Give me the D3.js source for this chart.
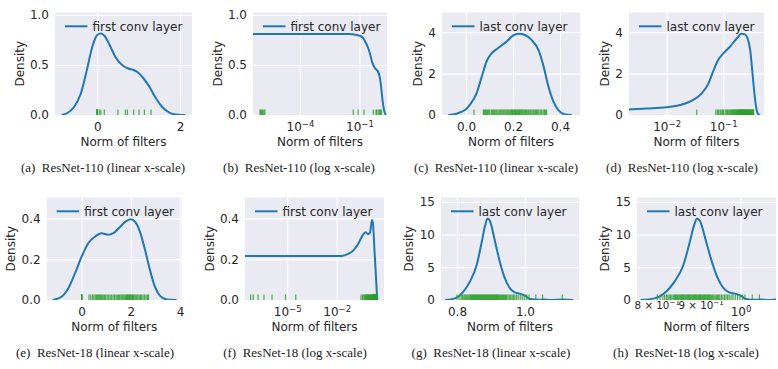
<!DOCTYPE html>
<html>
<head>
<meta charset="utf-8">
<script src="https://cdn.jsdelivr.net/npm/d3@7"></script>
<style>
  body { margin: 0; background: #fff; }
  svg text { font-family: 'DejaVu Sans', sans-serif; fill: #262626; }
  svg text.caption { font-family: 'Liberation Serif', 'Times New Roman', serif; fill: #1a1a1a; }
</style>
</head>
<body>
<svg width="778" height="369"></svg>
<script>
/* global d3 */

// ---- values ----
// density curves, [norm, density]
const r110FirstCurve = [[-0.86,0],[-0.72,0.02],[-0.56,0.08],[-0.4,0.21],[-0.25,0.45],[-0.12,0.68],[0,0.8],[0.08,0.815],[0.18,0.79],[0.3,0.7],[0.44,0.58],[0.6,0.5],[0.75,0.465],[0.88,0.45],[1.0,0.42],[1.12,0.365],[1.25,0.29],[1.4,0.18],[1.55,0.09],[1.7,0.035],[1.85,0.008],[2.12,0]]
const r110FirstCurveLog = [[4.27e-7,0.81],[0.0316,0.81],[0.0724,0.8],[0.112,0.79],[0.155,0.77],[0.2,0.73],[0.275,0.67],[0.355,0.6],[0.42,0.54],[0.5,0.5],[0.6,0.47],[0.74,0.45],[0.89,0.43],[1.0,0.4],[1.175,0.32],[1.32,0.23],[1.48,0.14],[1.7,0.06],[1.95,0.015],[2.19,0]]
const r110LastCurve = [[-0.075,0],[-0.04,0.06],[-0.018,0.16],[0,0.28],[0.017,0.5],[0.045,1.05],[0.067,1.85],[0.088,2.6],[0.109,2.98],[0.138,3.25],[0.173,3.55],[0.201,3.85],[0.223,3.93],[0.251,3.87],[0.279,3.63],[0.308,3.15],[0.329,2.4],[0.35,1.4],[0.372,0.65],[0.393,0.24],[0.421,0.03],[0.45,0]]
const r110LastCurveLog = [[0.00216,0.27],[0.00447,0.31],[0.01,0.37],[0.0174,0.48],[0.0295,0.73],[0.0417,1.05],[0.055,1.53],[0.066,2.1],[0.0813,2.66],[0.1,2.98],[0.132,3.31],[0.174,3.71],[0.209,3.93],[0.24,3.9],[0.275,3.63],[0.302,3.05],[0.324,2.2],[0.355,1.05],[0.38,0.4],[0.417,0.03],[0.447,0]]
const r18FirstCurve = [[-1.18,0],[-0.81,0.016],[-0.54,0.057],[-0.27,0.13],[0,0.212],[0.27,0.278],[0.54,0.31],[0.81,0.327],[1.08,0.32],[1.29,0.327],[1.56,0.358],[1.83,0.388],[2.0,0.395],[2.17,0.384],[2.37,0.335],[2.58,0.245],[2.78,0.147],[2.98,0.065],[3.19,0.02],[3.46,0.003],[3.86,0]]
const r18FirstCurveLog = [[2.75e-8,0.216],[0.02,0.216],[0.05,0.226],[0.1,0.242],[0.2,0.274],[0.363,0.315],[0.575,0.332],[0.794,0.322],[1.047,0.33],[1.38,0.392],[1.585,0.375],[1.995,0.234],[2.51,0.089],[2.88,0]]
const r18LastCurve = [[0.765,0],[0.794,0.25],[0.819,1.27],[0.838,2.8],[0.858,5.34],[0.873,8.9],[0.882,11.2],[0.89,12.45],[0.897,12.05],[0.912,8.9],[0.926,5.85],[0.941,3.3],[0.956,1.78],[0.97,1.17],[0.985,0.97],[1.0,0.66],[1.015,0.15],[1.04,0.02],[1.055,0.08],[1.075,0],[1.11,0.08],[1.142,0]]

// filter norms (rug ticks)
const r110FirstNorms = [9.6e-7,1.05e-6,1.15e-6,1.3e-6,1.5e-6,1.7e-6,0.049,0.087,0.17,0.5,0.68,0.73,0.88,1.01,1.14,1.3]
const r110LastNorms = [0.034,0.074,0.079,0.083,0.088,0.092,0.097,0.101,0.108,0.113,0.118,0.122,0.127,0.131,0.136,0.141,0.145,0.149,0.153,0.158,0.162,0.166,0.171,0.175,0.179,0.183,0.187,0.191,0.194,0.198,0.201,0.205,0.208,0.211,0.214,0.218,0.221,0.224,0.228,0.231,0.235,0.238,0.242,0.246,0.25,0.254,0.258,0.263,0.267,0.272,0.276,0.281,0.286,0.29,0.295,0.3,0.305,0.31,0.316,0.322,0.328,0.334,0.338,0.343]
const r18FirstNorms = [6.0e-8,8.7e-8,1.7e-7,3.9e-7,1.2e-6,7.9e-6,3.3e-5,0.30,0.37,0.44,0.50,0.55,0.60,0.64,0.68,0.72,0.76,0.80,0.84,0.88,0.93,0.98,1.04,1.10,1.16,1.22,1.28,1.34,1.40,1.45,1.50,1.55,1.60,1.64,1.68,1.72,1.76,1.80,1.83,1.86,1.89,1.92,1.95,1.98,2.01,2.04,2.07,2.10,2.13,2.17,2.21,2.25,2.29,2.34,2.39,2.44,2.50,2.56,2.62,2.68,2.72]
const r18LastNorms = [0.800,0.806,0.812,0.816,0.820,0.823,0.826,0.829,0.832,0.835,0.838,0.840,0.842,0.844,0.846,0.848,0.850,0.852,0.854,0.856,0.858,0.860,0.862,0.864,0.866,0.868,0.870,0.872,0.874,0.876,0.878,0.880,0.882,0.884,0.886,0.888,0.890,0.892,0.894,0.896,0.898,0.900,0.902,0.904,0.906,0.908,0.910,0.912,0.914,0.916,0.918,0.920,0.922,0.925,0.928,0.931,0.934,0.937,0.940,0.943,0.946,0.950,0.954,0.958,0.962,0.966,0.970,0.975,0.980,0.986,0.992,0.998,1.005,1.012,1.032,1.052,1.110]

// ticks
const xTicksA = [0, 2]
const xTicksB = [1e-4, 1e-1]
const xTicksC = [0, 0.2, 0.4]
const xTicksD = [1e-2, 1e-1]
const xTicksE = [0, 2, 4]
const xTicksF = [1e-5, 1e-2]
const xTicksG = [0.8, 1.0]
const xTicksH = [1]
const xMinorTicksH = [0.8, 0.9]
const yTicks110First = [0, 0.5, 1]
const yTicks110Last = [0, 2, 4]
const yTicks18First = [0, 0.2, 0.4]
const yTicks18Last = [0, 5, 10, 15]

// texts
const xLabel = 'Norm of filters'
const yLabel = 'Density'
const layerNames = ['first conv layer', 'last conv layer']
const letters = ['a', 'b', 'c', 'd', 'e', 'f', 'g', 'h']
const captions = ['ResNet-110 (linear x-scale)', 'ResNet-110 (log x-scale)', 'ResNet-110 (linear x-scale)', 'ResNet-110 (log x-scale)',
	'ResNet-18 (linear x-scale)', 'ResNet-18 (log x-scale)', 'ResNet-18 (linear x-scale)', 'ResNet-18 (log x-scale)']

// ---- layout ----
const blue = '#1f77b4'
const green = '#2ca02c'
const fontSize = 12

const panels = [
	{name: 0, curve: r110FirstCurve, rug: r110FirstNorms, log: false, box: [55, 12.5, 192, 115], xDomain: [-1.02, 2.29], xTicks: xTicksA, xFmt: 'd', yMax: 1.025, yTicks: yTicks110First, yFmt: '.1f', capX: 103, capY: 172},
	{name: 0, curve: r110FirstCurveLog, rug: r110FirstNorms, log: true, box: [253, 12.5, 387, 115], xDomain: [Math.pow(10, -6.37), Math.pow(10, 0.39)], xTicks: xTicksB, yMax: 1.025, yTicks: yTicks110First, yFmt: '.1f', capX: 299, capY: 172},
	{name: 1, curve: r110LastCurve, rug: r110LastNorms, log: false, box: [442, 12.5, 580, 115], xDomain: [-0.102, 0.485], xTicks: xTicksC, xFmt: '.1f', yMax: 4.957, yTicks: yTicks110Last, yFmt: 'd', capX: 496, capY: 172},
	{name: 1, curve: r110LastCurveLog, rug: r110LastNorms, log: true, box: [629, 12.5, 764, 115], xDomain: [Math.pow(10, -2.665), Math.pow(10, -0.28)], xTicks: xTicksD, yMax: 4.957, yTicks: yTicks110Last, yFmt: 'd', capX: 682, capY: 172},
	{name: 0, curve: r18FirstCurve, rug: r18FirstNorms, log: false, box: [46.7, 197.5, 181.7, 300], xDomain: [-1.42, 4.07], xTicks: xTicksE, xFmt: 'd', yMax: 0.502, yTicks: yTicks18First, yFmt: '.1f', capX: 95, capY: 357},
	{name: 0, curve: r18FirstCurveLog, rug: r18FirstNorms, log: true, box: [245, 197.5, 384, 300], xDomain: [Math.pow(10, -7.56), Math.pow(10, 0.87)], xTicks: xTicksF, yMax: 0.502, yTicks: yTicks18First, yFmt: '.1f', capX: 295, capY: 357},
	{name: 1, curve: r18LastCurve, rug: r18LastNorms, log: false, box: [441, 197.5, 579, 300], xDomain: [0.753, 1.159], xTicks: xTicksG, xFmt: '.1f', yMax: 15.64, yTicks: yTicks18Last, yFmt: 'd', capX: 491, capY: 357},
	{name: 1, curve: r18LastCurve, rug: r18LastNorms, log: true, box: [637, 197.5, 776, 300], xDomain: [Math.pow(10, -0.1205), Math.pow(10, 0.0413)], xTicks: xTicksH, xMinor: xMinorTicksH, yMax: 15.64, yTicks: yTicks18Last, yFmt: 'd', capX: 686, capY: 357}
]

const svg = d3.select('svg')

function styleAxis(sel) {
	sel.select('.domain').remove()
	sel.attr('font-family', null).attr('font-size', fontSize)
	sel.selectAll('.tick line').attr('stroke', '#fff').attr('stroke-width', 1.1)
	sel.selectAll('.tick text').attr('fill', '#262626')
}

function supMinus(n) {
	return String(n).replace('-', '\u2212')
}

panels.forEach(function(p, i) {
	const x0 = p.box[0], y0 = p.box[1]
	const w = p.box[2] - x0, h = p.box[3] - y0

	const x = (p.log ? d3.scaleLog() : d3.scaleLinear()).domain(p.xDomain).range([0, w])
	const y = d3.scaleLinear().domain([0, p.yMax]).range([h, 0])

	const g = svg.append('g').attr('transform', 'translate(' + x0 + ',' + y0 + ')')
	g.append('rect').attr('width', w).attr('height', h).attr('fill', '#eaeaf2')

	// grid + tick labels
	const xAxis = g.append('g').attr('transform', 'translate(0,' + h + ')')
		.call(d3.axisBottom(x).tickValues(p.xTicks).tickSize(-h).tickPadding(7)
			.tickFormat(p.log ? function() { return '10' } : d3.format(p.xFmt)))
	styleAxis(xAxis)
	if (p.log) {
		xAxis.selectAll('.tick text').append('tspan')
			.attr('dy', -4).attr('font-size', 8.5)
			.text(function(d) { return supMinus(Math.round(Math.log10(d))) })
	}
	if (p.xMinor) {
		g.selectAll('text.minor').data(p.xMinor).enter().append('text')
			.attr('class', 'minor')
			.attr('x', function(d) { return x(d) })
			.attr('y', h + 8.5)
			.attr('text-anchor', 'middle')
			.attr('font-size', 10.3)
			.text(function(d) { return Math.round(d * 10) + ' \u00d7 10' })
			.append('tspan').attr('dy', -3.5).attr('font-size', 7.2).text(supMinus(-1))
	}

	const yAxis = g.append('g')
		.call(d3.axisLeft(y).tickValues(p.yTicks).tickSize(-w).tickPadding(6).tickFormat(d3.format(p.yFmt)))
	styleAxis(yAxis)

	// curve + rug, clipped to the axes
	g.append('clipPath').attr('id', 'clip' + i)
		.append('rect').attr('width', w).attr('height', h)
	const plot = g.append('g').attr('clip-path', 'url(#clip' + i + ')')

	const line = d3.line()
		.x(function(d) { return x(d[0]) })
		.y(function(d) { return y(d[1]) })
		.curve(d3.curveMonotoneX)

	plot.append('path').datum(p.curve)
		.attr('d', line)
		.attr('fill', 'none')
		.attr('stroke', blue)
		.attr('stroke-width', 2)

	plot.selectAll('line.rug').data(p.rug).enter().append('line')
		.attr('class', 'rug')
		.attr('x1', function(d) { return x(d) })
		.attr('x2', function(d) { return x(d) })
		.attr('y1', h)
		.attr('y2', h - 5.5)
		.attr('stroke', green)
		.attr('stroke-opacity', 0.85)
		.attr('stroke-width', 1.2)

	// legend
	const ly = 13.8
	g.append('line').attr('x1', 10).attr('x2', 32.5).attr('y1', ly).attr('y2', ly)
		.attr('stroke', blue).attr('stroke-width', 2)
	g.append('text').attr('x', 37.5).attr('y', ly + 4.3).attr('font-size', fontSize)
		.text(layerNames[p.name])

	// axis labels
	let maxw = 0
	yAxis.selectAll('.tick text').each(function() { maxw = Math.max(maxw, this.getComputedTextLength()) })
	g.append('text')
		.attr('transform', 'translate(' + (-(6 + maxw + 10.5)) + ',' + (h / 2) + ') rotate(-90)')
		.attr('text-anchor', 'middle').attr('dy', '0.35em').attr('font-size', fontSize)
		.text(yLabel)
	g.append('text')
		.attr('x', w / 2).attr('y', h + 31.3)
		.attr('text-anchor', 'middle').attr('font-size', fontSize)
		.text(xLabel)

	// caption
	svg.append('text').attr('class', 'caption')
		.attr('x', p.capX).attr('y', p.capY)
		.attr('text-anchor', 'middle').attr('font-size', 13)
		.text('(' + letters[i] + ')\u2002' + captions[i])
})
</script>
</body>
</html>
